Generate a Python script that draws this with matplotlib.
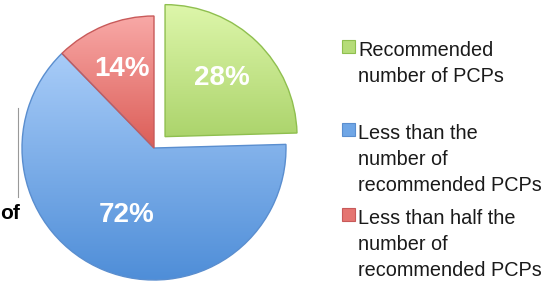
import numpy as np
import matplotlib.pyplot as plt
from matplotlib.colors import to_rgb
from matplotlib.patches import Rectangle
from matplotlib.lines import Line2D

# data
labels = ['Recommended\nnumber of PCPs',
          'Less than the\nnumber of\nrecommended PCPs',
          'Less than half the\nnumber of\nrecommended PCPs']
values = [28, 72, 14]
top_colors = ['#ddf6aa', '#a8ccf8', '#f8a8a6']
bottom_colors = ['#acd46c', '#4f8ed8', '#dc5e58']
edge_colors = ['#8fbf4f', '#5a8ecf', '#c85a5a']
legend_colors = ['#b5dc78', '#6fa6e6', '#e57571']

W, H = 558, 282
fig = plt.figure(figsize=(W / 100, H / 100), dpi=100)
ax = fig.add_axes([0, 0, 1, 1])

R = 132
total = sum(values)
# explode is in data units here, not a fraction of R
wedges, texts, autotexts = ax.pie(
    values, startangle=90, counterclock=False,
    explode=[0.12 * R, 0, 0], center=(154, H - 148), radius=R,
    colors=['none'] * 3,
    autopct=lambda p: '%d%%' % round(p * total / 100),
    wedgeprops=dict(linewidth=1.0),
    textprops=dict(color='white', fontsize=20, fontweight='bold',
                   family='Liberation Sans'),
    frame=False)

# gradient fill clipped to each wedge
pct_dist = [0.62, 0.55, 0.65]
for i, w in enumerate(wedges):
    w.set_edgecolor(edge_colors[i])
    w.set_zorder(3)
    ext = w.get_path().get_extents()
    c0 = np.array(to_rgb(top_colors[i]))
    c1 = np.array(to_rgb(bottom_colors[i]))
    t = np.linspace(0, 1, 100)[:, None]
    grad = (c0 * (1 - t) + c1 * t)[:, None, :]
    im = ax.imshow(grad, extent=[ext.x0, ext.x1, ext.y0, ext.y1],
                   aspect='auto', zorder=2, interpolation='bilinear')
    im.set_clip_path(w)
    mid = np.deg2rad((w.theta1 + w.theta2) / 2)
    cx, cy = w.center
    autotexts[i].set_position((cx + pct_dist[i] * R * np.cos(mid),
                               cy + pct_dist[i] * R * np.sin(mid)))
    autotexts[i].set_zorder(4)

# legend
sq_tops = [40, 123, 208]
for i, lab in enumerate(labels):
    ax.add_patch(Rectangle((342, H - sq_tops[i] - 13), 13, 13,
                           facecolor=legend_colors[i],
                           edgecolor=edge_colors[i], linewidth=0.8))
    for j, line in enumerate(lab.split('\n')):
        ax.text(358, H - (sq_tops[i] + 16 + j * 26), line,
                fontsize=14.3, family='Liberation Sans', color='#1a1a1a',
                va='baseline', ha='left')

# leftover bits from the cropped slide
ax.text(0, H - 219, 'of', fontsize=15, fontweight='bold',
        family='Liberation Sans', ha='left', va='baseline')
ax.add_line(Line2D([18, 18], [H - 108, H - 197], color='#999999', lw=0.8))

ax.set_xlim(0, W)
ax.set_ylim(0, H)
ax.set_aspect('auto')
ax.axis('off')

fig.savefig('out.png', dpi=100)
